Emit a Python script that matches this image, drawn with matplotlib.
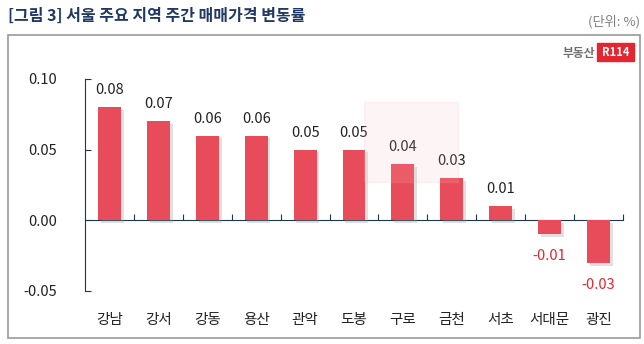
import matplotlib.pyplot as plt
import matplotlib.patheffects as pe
from matplotlib.patches import Rectangle

plt.rcParams['font.family'] = ['Noto Sans CJK KR', 'DejaVu Sans']

# 지역별 주간 매매가격 변동률(%)
regions = ['강남', '강서', '강동', '용산', '관악', '도봉', '구로', '금천', '서초', '서대문', '광진']
changes = [0.08, 0.07, 0.06, 0.06, 0.05, 0.05, 0.04, 0.03, 0.01, -0.01, -0.03]
yticks = [-0.05, 0.00, 0.05, 0.10]

bar_color = '#E84C5A'
axis_color = '#1F3550'

fig = plt.figure(figsize=(6.44, 3.44), dpi=100)

# 제목과 단위
fig.text(8 / 644, 1 - 16 / 344, '[그림 3] 서울 주요 지역 주간 매매가격 변동률',
         fontsize=11.5, fontweight='bold', color='#1F3864', va='center', ha='left')
fig.text(640 / 644, 1 - 22 / 344, '(단위: %)', fontsize=9.5, color='#808080',
         va='center', ha='right')

# 바깥 테두리
fig.add_artist(Rectangle((8 / 644, 1 - 338 / 344), 632 / 644, 303 / 344,
                         transform=fig.transFigure, fill=False,
                         edgecolor='#9A9A9A', linewidth=1.2))

# 로고
fig.text(595 / 644, 1 - 53 / 344, '부동산', fontsize=8.5, color='#6E6E6E',
         va='center', ha='right', fontweight='bold')
fig.add_artist(Rectangle((597 / 644, 1 - 61 / 344), 37 / 644, 18 / 344,
                         transform=fig.transFigure, color='#E3262F'))
fig.text(615.5 / 644, 1 - 52 / 344, 'R114', fontsize=8, color='white',
         va='center', ha='center', fontweight='bold')

ax = fig.add_axes([85 / 644, 1 - 291 / 344, 538 / 644, 212 / 344])
x = list(range(len(regions)))
bars = ax.bar(x, changes, width=0.47, color=bar_color, zorder=3)
for b in bars:
    b.set_path_effects([pe.SimplePatchShadow(offset=(2, -2), shadow_rgbFace='#999999', alpha=0.3),
                        pe.Normal()])

ax.set_xlim(-0.5, len(regions) - 0.5)
ax.set_ylim(-0.05, 0.10)
ax.set_yticks(yticks)
ax.set_yticklabels([f'{v:.2f}' for v in yticks])
ax.tick_params(axis='y', direction='in', length=4, pad=20, labelsize=10.5,
               color=axis_color, labelcolor='#222222')

# x축은 0 위치, 구간 경계에 눈금
ax.spines['bottom'].set_position(('data', 0))
ax.spines['bottom'].set_color(axis_color)
ax.spines['left'].set_color(axis_color)
ax.spines['top'].set_visible(False)
ax.spines['right'].set_visible(False)
ax.set_xticks([i + 0.5 for i in range(len(regions))])
ax.tick_params(axis='x', direction='in', length=4, labelbottom=False, color=axis_color)
ax.patch.set_alpha(0)

for i, (name, v) in enumerate(zip(regions, changes)):
    ax.annotate(name, xy=(i, 0), xycoords=('data', 'axes fraction'),
                xytext=(0, -29), textcoords='offset pixels',
                ha='center', va='center', fontsize=10.5, color='#222222')
    if v >= 0:
        ax.annotate(f'{v:.2f}', xy=(i, v), xytext=(0, 17), textcoords='offset pixels',
                    ha='center', va='center', fontsize=10.5, color='#222222')
    else:
        ax.annotate(f'{v:.2f}', xy=(i, v), xytext=(0, -22), textcoords='offset pixels',
                    ha='center', va='center', fontsize=10.5, color='#E3262F')

# 희미한 워터마크 상자
fig.add_artist(Rectangle((364 / 644, 1 - 182 / 344), 94 / 644, 80 / 344,
                         transform=fig.transFigure, color='#F4B8BE', alpha=0.15, zorder=5))

fig.savefig('out.png', dpi=100)
